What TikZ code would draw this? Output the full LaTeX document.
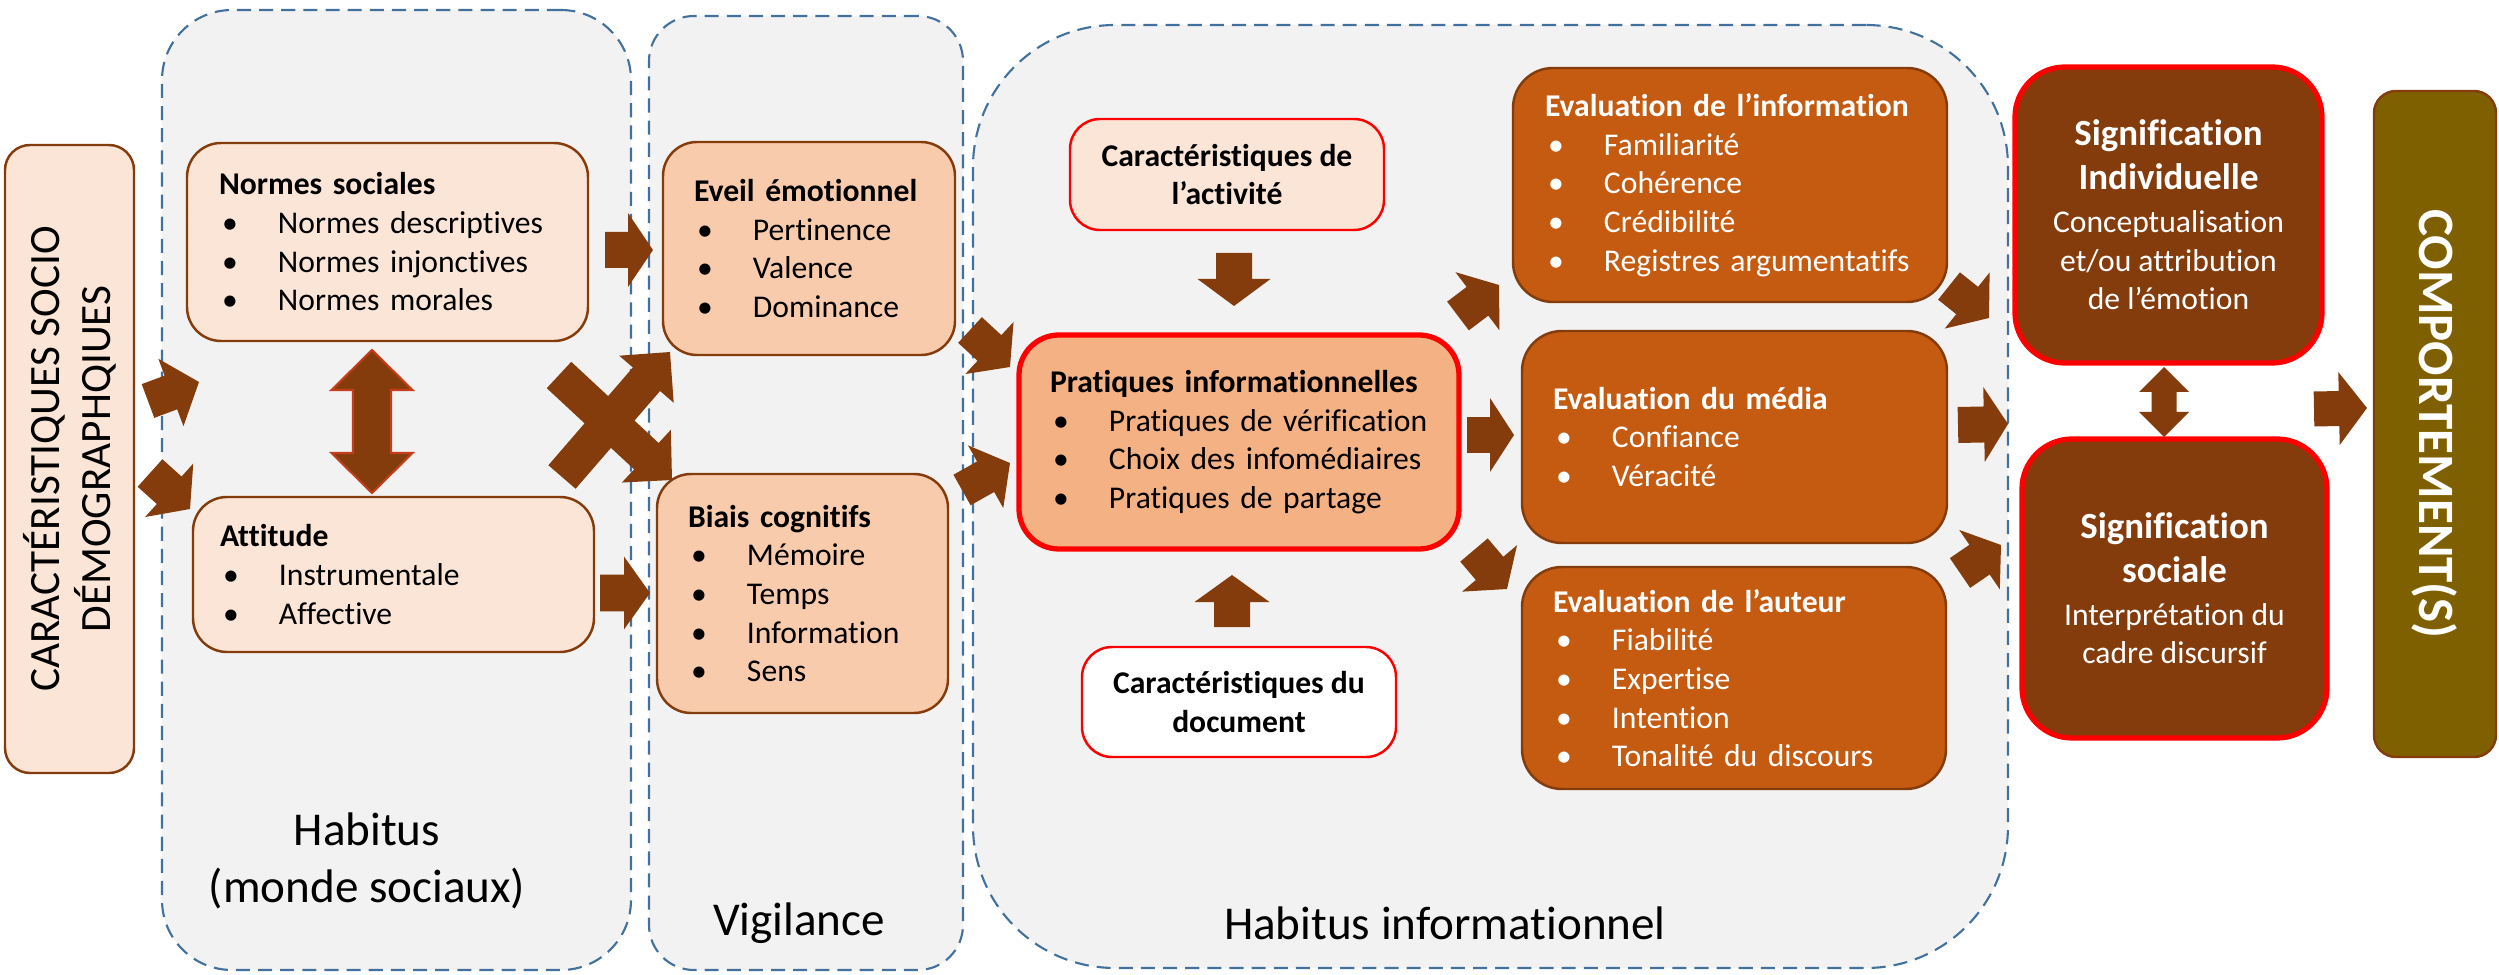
\documentclass[tikz,border=0pt]{standalone}
\usepackage{fontspec}
\setmainfont{Carlito}[Ligatures=NoCommon]
\usetikzlibrary{calc}
\definecolor{peach}{HTML}{FBE5D6}
\definecolor{peachmid}{HTML}{F8CBAD}
\definecolor{peachdark}{HTML}{F4B183}
\definecolor{rust}{HTML}{C55A11}
\definecolor{darkbrown}{HTML}{843C0C}
\definecolor{compcol}{HTML}{7F6000}
\definecolor{contfill}{HTML}{F2F2F2}
\definecolor{contline}{HTML}{41719C}
\definecolor{redline}{HTML}{FF0000}
\definecolor{arrowedge}{HTML}{C43E1C}
\newcommand\bul[1]{\makebox[5.9mm][l]{\hspace*{0.3mm}•}#1}
\newcommand\sigt[1]{\textbf{\fontsize{10.5}{12}\selectfont #1}}
% block arrow: [style]{tail}{tip}{shaft px}{head width px}{head length px}
\newcommand\barrow[6][]{%
  \coordinate (ba-hb) at ($(#3)!#6*0.1mm!(#2)$);
  \path[arrowfill,#1] ($(#2)!#4*0.05mm!90:(#3)$) -- ($(ba-hb)!#4*0.05mm!-90:(#2)$)
    -- ($(ba-hb)!#5*0.05mm!-90:(#2)$) -- (#3) -- ($(ba-hb)!#5*0.05mm!90:(#2)$)
    -- ($(ba-hb)!#4*0.05mm!90:(#2)$) -- ($(#2)!#4*0.05mm!-90:(#3)$) -- cycle;
}
% double block arrow: [style]{end1}{end2}{shaft}{head width}{head length}
\newcommand\dbarrow[6][]{%
  \coordinate (da-h1) at ($(#2)!#6*0.1mm!(#3)$);
  \coordinate (da-h2) at ($(#3)!#6*0.1mm!(#2)$);
  \path[arrowfill,#1] (#2) -- ($(da-h1)!#5*0.05mm!90:(#3)$) -- ($(da-h1)!#4*0.05mm!90:(#3)$)
    -- ($(da-h2)!#4*0.05mm!-90:(#2)$) -- ($(da-h2)!#5*0.05mm!-90:(#2)$) -- (#3)
    -- ($(da-h2)!#5*0.05mm!90:(#2)$) -- ($(da-h2)!#4*0.05mm!90:(#2)$)
    -- ($(da-h1)!#4*0.05mm!-90:(#3)$) -- ($(da-h1)!#5*0.05mm!-90:(#3)$) -- cycle;
}
\tikzset{
  cont/.style={rectangle, draw=contline, fill=contfill, line width=0.6pt,
    dash pattern=on 4pt off 2.3pt, inner sep=0pt, outer sep=0pt},
  box/.style={rectangle, rounded corners=3.4mm, draw=darkbrown, line width=0.7pt,
    inner sep=0pt, outer sep=0pt, font=\fontsize{9}{11}\selectfont},
  listbox/.style={box, align=left, inner xsep=3.1mm},
  cbox/.style={box, align=center},
  lab/.style={font=\fontsize{13.4}{16}\selectfont, align=center, inner sep=0pt},
  arrowfill/.style={fill=darkbrown},
}
\begin{document}
\begin{tikzpicture}[x=0.1mm, y=-0.1mm]
\useasboundingbox (0,0) rectangle (2499,975);

% containers
\node[cont, minimum width=46.9mm, minimum height=96mm, rounded corners=7mm] (habitus) at (396.5,490) {};
\node[cont, minimum width=31.4mm, minimum height=95.4mm, rounded corners=4.5mm] (vigil) at (806,493) {};
\node[cont, minimum width=103.5mm, minimum height=94.3mm, rounded corners=14.2mm] (habinfo) at (1490.5,496.5) {};

\node[lab] (hablab) at (367,861) {Habitus\\(monde sociaux)};
\node[lab] (viglab) at (799,923) {Vigilance};
\node[lab] (hilab) at (1445,923) {Habitus informationnel};

% boxes
\node[box, fill=peach, rotate=90, minimum width=62.8mm, minimum height=12.9mm, align=center,
  font=\fontsize{12.3}{14.5}\selectfont, rounded corners=2.5mm] (socio) at (69.5,459)
  {CARACTÉRISTIQUES SOCIO\\DÉMOGRAPHQIUES};

\node[listbox, fill=peach, minimum width=40.1mm, minimum height=19.8mm, text width=33.7mm, inner xsep=3.2mm] (normes) at (387.5,242)
  {\textbf{Normes sociales}\\\bul{Normes descriptives}\\\bul{Normes injonctives}\\\bul{Normes morales}};
\node[listbox, fill=peach, minimum width=40.1mm, minimum height=15.5mm, text width=34.7mm, inner xsep=2.7mm] (attitude) at (393.5,574.5)
  {\textbf{Attitude}\\\bul{Instrumentale}\\\bul{Affective}};

\node[listbox, fill=peachmid, minimum width=29.2mm, minimum height=21.3mm, text width=23mm] (eveil) at (809,248.5)
  {\textbf{Eveil émotionnel}\\\bul{Pertinence}\\\bul{Valence}\\\bul{Dominance}};
\node[listbox, fill=peachmid, minimum width=29.1mm, minimum height=23.9mm, text width=22.9mm] (biais) at (802.5,593.5)
  {\textbf{Biais cognitifs}\\\bul{Mémoire}\\\bul{Temps}\\\bul{Information}\\\bul{Sens}};

\node[cbox, fill=peach, draw=redline, minimum width=31.4mm, minimum height=11.1mm, rounded corners=3mm] (activite) at (1227,174.5)
  {\textbf{Caractéristiques de}\\\textbf{l’activité}};
\node[listbox, fill=peachdark, draw=redline, line width=1.5pt, minimum width=44mm, minimum height=21.4mm, text width=37.8mm, rounded corners=4mm] (pratiques) at (1239,442)
  {\textbf{Pratiques informationnelles}\\\bul{Pratiques de vérification}\\\bul{Choix des infomédiaires}\\\bul{Pratiques de partage}};
\node[cbox, fill=white, draw=redline, minimum width=31.4mm, minimum height=11mm, rounded corners=3mm] (document) at (1239,702)
  {\textbf{Caractéristiques du}\\\textbf{document}};

\node[listbox, fill=rust, text=white, minimum width=43.4mm, minimum height=23.4mm, text width=37mm, inner xsep=3.2mm, rounded corners=4mm] (evalinfo) at (1730,185)
  {\textbf{Evaluation de l’information}\\\bul{Familiarité}\\\bul{Cohérence}\\\bul{Crédibilité}\\\bul{Registres argumentatifs}};
\node[listbox, fill=rust, text=white, minimum width=42.5mm, minimum height=21.2mm, text width=36.3mm, rounded corners=4mm] (evalmedia) at (1734.5,437)
  {\textbf{Evaluation du média}\\\bul{Confiance}\\\bul{Véracité}};
\node[listbox, fill=rust, text=white, minimum width=42.4mm, minimum height=22.2mm, text width=36.2mm, rounded corners=4mm] (evalauteur) at (1734,678)
  {\textbf{Evaluation de l’auteur}\\\bul{Fiabilité}\\\bul{Expertise}\\\bul{Intention}\\\bul{Tonalité du discours}};

\node[cbox, fill=darkbrown, draw=redline, line width=1.5pt, text=white, minimum width=30.7mm, minimum height=29.6mm, rounded corners=5mm] (sigind) at (2168.5,215)
  {\sigt{Signification}\\[1.3pt]\sigt{Individuelle}\\[1.3pt]Conceptualisation\\et/ou attribution\\de l’émotion};
\node[cbox, fill=darkbrown, draw=redline, line width=1.5pt, text=white, minimum width=30.5mm, minimum height=29.9mm, rounded corners=5mm] (sigsoc) at (2174.5,588.5)
  {\sigt{Signification}\\[1.3pt]\sigt{sociale}\\[1.3pt]Interprétation du\\cadre discursif};

\node[box, fill=compcol, rotate=-90, minimum width=66.6mm, minimum height=12.2mm, text=white,
  font=\bfseries\fontsize{14.5}{17}\selectfont, rounded corners=2.2mm] (comp) at (2435,424) {COMPORTEMENT(S)};

% arrow end points
\coordinate (a1s) at (148,401);  \coordinate (a1e) at (199,382);
\coordinate (a2s) at (150,473);  \coordinate (a2e) at (190,509);
\coordinate (a3s) at (605,250);  \coordinate (a3e) at (653,250);
\coordinate (a4s) at (600,593);  \coordinate (a4e) at (650,593);
\coordinate (xas) at (562,477);  \coordinate (xae) at (670,352);
\coordinate (xbs) at (559,375);  \coordinate (xbe) at (672,480);
\coordinate (a6s) at (970,330);  \coordinate (a6e) at (1010,367);
\coordinate (a7s) at (962,490);  \coordinate (a7e) at (1010,463);
\coordinate (a8s) at (1467,435); \coordinate (a8e) at (1514,435);
\coordinate (a9s) at (1458,316); \coordinate (a9e) at (1499,285);
\coordinate (a10s) at (1474,550); \coordinate (a10e) at (1507,589);
\coordinate (a11s) at (1949,286); \coordinate (a11e) at (1989,318);
\coordinate (a12s) at (1958,425); \coordinate (a12e) at (2008,424);
\coordinate (a13s) at (1960,573); \coordinate (a13e) at (2001,545);
\coordinate (a14s) at (1234,253); \coordinate (a14e) at (1234,306);
\coordinate (a15s) at (1232,627); \coordinate (a15e) at (1232,575);
\coordinate (a16s) at (2314,409); \coordinate (a16e) at (2367,408);
\coordinate (d1a) at (372,350);  \coordinate (d1b) at (372,493);
\coordinate (d2a) at (2164,367); \coordinate (d2b) at (2164,437);

\barrow{a1s}{a1e}{36}{72}{30}
\barrow{a2s}{a2e}{37}{72}{28}
\barrow{a3s}{a3e}{36}{74}{25}
\barrow{a4s}{a4e}{37}{73}{26}
\barrow{xas}{xae}{36}{72}{36}
\barrow{xbs}{xbe}{36}{72}{35}
\barrow{a6s}{a6e}{35}{71}{28}
\barrow{a7s}{a7e}{35}{72}{28}
\barrow{a8s}{a8e}{36}{74}{24}
\barrow{a9s}{a9e}{36}{73}{27}
\barrow{a10s}{a10e}{36}{72}{27}
\barrow{a11s}{a11e}{35}{72}{28}
\barrow{a12s}{a12e}{36}{75}{24}
\barrow{a13s}{a13e}{36}{72}{26}
\barrow{a14s}{a14e}{36}{73}{27}
\barrow{a15s}{a15e}{36}{75}{27}
\barrow{a16s}{a16e}{35}{73}{28}
\dbarrow[draw=arrowedge, line width=0.6pt]{d1a}{d1b}{38}{81}{40}
\dbarrow{d2a}{d2b}{25}{50}{25}
\end{tikzpicture}
\end{document}
